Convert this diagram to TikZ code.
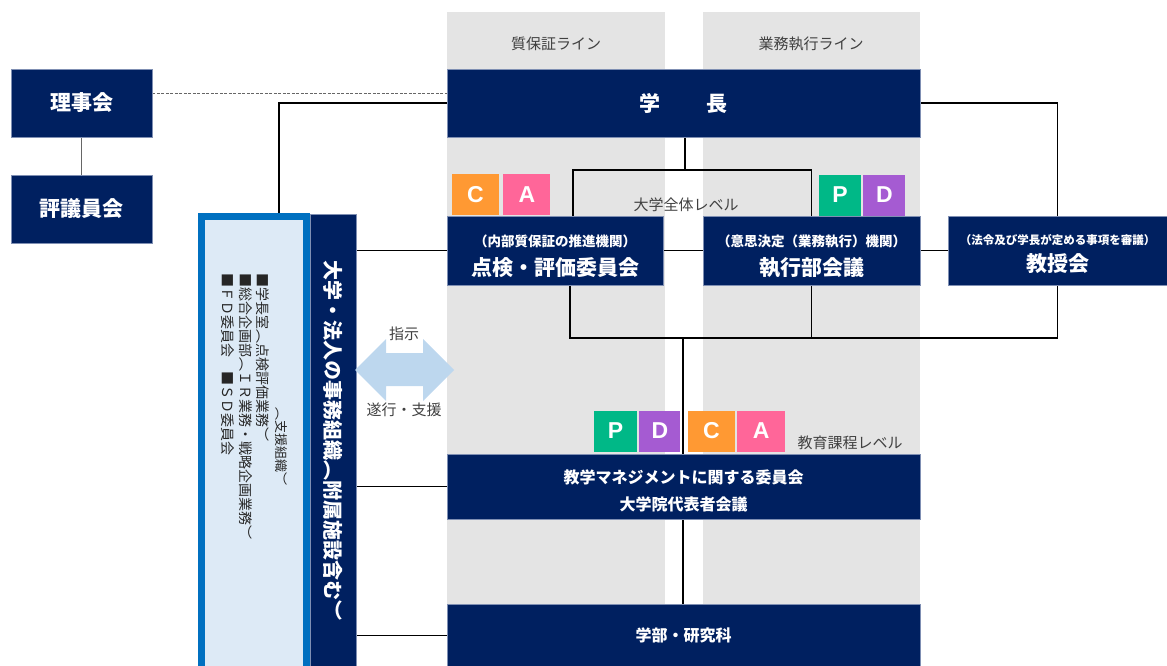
\documentclass[tikz,border=0pt]{standalone}
\usepackage{fontspec}
\setmainfont{Noto Sans CJK JP}
\newfontfamily\vjp[Vertical=RotatedGlyphs]{Noto Sans CJK JP}
\newfontfamily\latinfont{Liberation Sans}
\usepackage{graphicx}
\usetikzlibrary{positioning}
\definecolor{navy}{HTML}{002060}
\definecolor{edge}{HTML}{7F8FB3}
\definecolor{colgray}{HTML}{E4E4E4}
\definecolor{supblue}{HTML}{0070C0}
\definecolor{suplight}{HTML}{DDEAF6}
\definecolor{arrowblue}{HTML}{BDD7EE}
\definecolor{colC}{HTML}{FF9933}
\definecolor{colA}{HTML}{FF6699}
\definecolor{colP}{HTML}{00B887}
\definecolor{colD}{HTML}{A55BD2}
\definecolor{labelgray}{HTML}{404040}
\newcommand{\fsz}[2]{\fontsize{#1}{#2}\selectfont}
\pgfdeclarelayer{bg}
\pgfsetlayers{bg,main}

\begin{document}
\begin{tikzpicture}[x=1pt,y=-1pt,
    navybox/.style={draw=edge,line width=0.6pt,fill=navy,text=white,
      inner sep=0pt,align=center,font=\bfseries\fsz{21}{26}},
    pdca/.style={minimum height=41,inner sep=0pt,text=white,
      font=\latinfont\bfseries\fsz{23}{26}},
    conn/.style={line width=1.1pt},
    lbl/.style={text=labelgray,inner sep=0pt,font=\fsz{15}{18}},
    vtext/.style={inner sep=0pt,anchor=north,text=black!85,font=\vjp\fsz{14}{17}}]
 \useasboundingbox (0,0) rectangle (1167,666);
 % board and council
 \node[navybox,minimum width=141,minimum height=68] (riji) at (81.5,103) {理事会};
 \node[navybox,minimum width=141,minimum height=68] (hyogi) at (81.5,209) {評議員会};
 % president and committees
 \node[navybox,minimum width=473,minimum height=68] (gakucho) at (683.5,103) {学\hspace{46pt}長};
 \node[navybox,minimum width=216,minimum height=69] (tenken) at (555,250.5)
  {\fsz{13.5}{17}\rule{0pt}{23pt}（内部質保証の推進機関）\\[3pt] 点検・評価委員会};
 \node[navybox,minimum width=217,minimum height=69] (shikko) at (811.5,250.5)
  {\fsz{13.5}{17}\rule{0pt}{23pt}（意思決定（業務執行）機関）\\[3pt] 執行部会議};
 \node[navybox,minimum width=219,minimum height=69] (kyoju) at (1057.5,250.5)
  {\fsz{11.5}{15}\rule{0pt}{17pt}（法令及び学長が定める事項を審議）\\[1pt] 教授会};
 \node[navybox,minimum width=473,minimum height=65,font=\bfseries\fsz{16}{26}] (kyogaku) at (683.5,486.5)
  {\rule{0pt}{23pt}教学マネジメントに関する委員会\\[1pt] 大学院代表者会議};
 \node[navybox,minimum width=473,minimum height=62,font=\bfseries\fsz{16}{20}] (gakubu) at (683.5,635) {学部・研究科};
 % administration
 \node[draw=supblue,line width=7pt,fill=suplight,minimum width=105,minimum height=453] (shien) at (254,443) {};
 \node[navybox,minimum width=46,minimum height=452] (jimu) at (333,440)
  {\rotatebox{-90}{\vjp\fsz{20}{24}大学・法人の事務組織（附属施設含む）}};
 \node[vtext,font=\vjp\fsz{13}{16}] (sup0) at (281,407) {\rotatebox{-90}{（支援組織）}};
 \node[vtext] (sup1) at (263,273) {\rotatebox{-90}{■学長室（点検評価業務）}};
 \node[vtext] (sup2) at (246,273) {\rotatebox{-90}{■総合企画部（ＩＲ業務・戦略企画業務）}};
 \node[vtext] (sup3) at (228,273) {\rotatebox{-90}{■ＦＤ委員会　■ＳＤ委員会}};
 % PDCA
 \node[pdca,minimum width=47,fill=colC] (c1) at (475.5,194.5) {C};
 \node[pdca,minimum width=47,fill=colA,right=4pt of c1] (a1) {A};
 \node[pdca,minimum width=42,fill=colP] (p1) at (840,195) {P};
 \node[pdca,minimum width=42,fill=colD,right=2pt of p1] (d1) {D};
 \node[pdca,minimum width=43,fill=colP] (p2) at (615.5,431) {P};
 \node[pdca,minimum width=41,fill=colD,right=2pt of p2] (d2) {D};
 \node[pdca,minimum width=47,fill=colC,right=7pt of d2] (c2) {C};
 \node[pdca,minimum width=48,fill=colA,right=2pt of c2] (a2) {A};
 % labels
 \node[lbl] (qline) at (556,44) {質保証ライン};
 \node[lbl] (bline) at (811,44) {業務執行ライン};
 \node[lbl] (zentai) at (686,205) {大学全体レベル};
 \node[lbl] (katei) at (850,443) {教育課程レベル};
 \node[lbl] (shiji) at (404,334) {指示};
 \node[lbl] (suiko) at (404,410) {遂行・支援};
 \fill[arrowblue] (355,370) -- (386,339) -- (386,353) -- (423,353) -- (423,339) -- (454,370)
  -- (423,401) -- (423,386) -- (386,386) -- (386,401) -- cycle;
 \begin{pgfonlayer}{bg}
  \fill[colgray] (447,12) rectangle (665,666);
  \fill[colgray] (703,12) rectangle (920,666);
  \draw[conn,gray!80!black,line width=0.8pt] (riji) -- (hyogi);
  \draw[gray!80!black,line width=0.8pt,dash pattern=on 3pt off 1.5pt]
   ([yshift=10pt]riji.east) -- ([yshift=10pt]gakucho.west);
  \draw[conn] (gakucho.west) -| ([xshift=25pt]shien.north);
  \draw[conn] (gakucho.east) -| (kyoju.north);
  \coordinate (hub1) at (685,170);
  \coordinate (hub2) at (683,338);
  \draw[conn] (gakucho.south -| hub1) -- (hub1);
  \draw[conn] ([xshift=18pt]tenken.north) |- (hub1) -| (shikko.north);
  \draw[conn] (tenken) -- (shikko);
  \draw[conn] (shikko) -- (kyoju);
  \draw[conn] ([xshift=15pt]tenken.south) |- (hub2) -| (kyoju.south);
  \draw[conn] (shikko.south) -- (shikko.south |- hub2);
  \draw[conn] (hub2) -- (hub2 |- gakubu.north);
  \foreach \n in {tenken,kyogaku,gakubu}
   \draw[line width=0.8pt] (jimu.east |- \n.west) -- (\n.west);
 \end{pgfonlayer}
\end{tikzpicture}
\end{document}
